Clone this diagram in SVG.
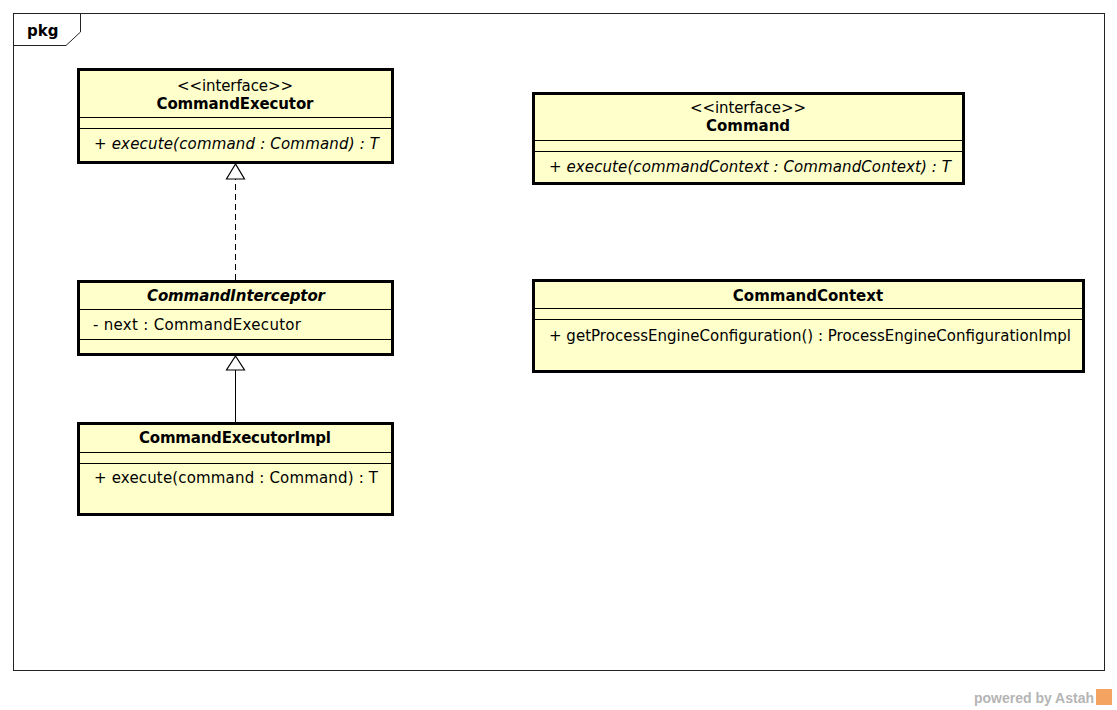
<svg xmlns="http://www.w3.org/2000/svg" width="1117" height="710" viewBox="0 0 1117 710">
<style>
.box{fill:#ffffcc;stroke:#000;stroke-width:3}
.sep{stroke:#000;stroke-width:1;fill:none}
.t{font-family:"DejaVu Sans",Verdana,sans-serif;font-size:15px;fill:#000}
.b{font-weight:bold}
.i{font-style:italic}
.c{text-anchor:middle}
.frame{fill:none;stroke:#222;stroke-width:1}
.conn{stroke:#000;stroke-width:1;fill:none}
.tri{fill:#fff;stroke:#000;stroke-width:1.2}
</style>
<rect width="1117" height="710" fill="#fff"/>
<g id="frame">
<rect class="frame" x="13.5" y="13.5" width="1091" height="657"/>
<path class="frame" d="M13.5,45.5 H66 L80.5,32 V13.5"/>
<text class="t b" x="27" y="36" font-size="15.5">pkg</text>
</g>
<g id="CommandExecutor">
<rect class="box" x="78.5" y="69.5" width="314" height="93"/>
<line class="sep" x1="78" y1="117.5" x2="393" y2="117.5"/>
<line class="sep" x1="78" y1="128.5" x2="393" y2="128.5"/>
<text class="t c" x="235" y="91" textLength="116" lengthAdjust="spacing">&lt;&lt;interface&gt;&gt;</text>
<text class="t b c" x="235" y="109" textLength="157" lengthAdjust="spacing">CommandExecutor</text>
<text class="t i" x="94" y="149" textLength="285" lengthAdjust="spacing">+ execute(command : Command) : T</text>
</g>
<g id="CommandInterceptor">
<rect class="box" x="78.5" y="281.5" width="314" height="73"/>
<line class="sep" x1="78" y1="309.5" x2="393" y2="309.5"/>
<line class="sep" x1="78" y1="339.5" x2="393" y2="339.5"/>
<text class="t b i c" x="236" y="301" textLength="178" lengthAdjust="spacing">CommandInterceptor</text>
<text class="t" x="93" y="330" textLength="208" lengthAdjust="spacing">- next : CommandExecutor</text>
</g>
<g id="CommandExecutorImpl">
<rect class="box" x="78.5" y="423.5" width="314" height="91"/>
<line class="sep" x1="78" y1="452.5" x2="393" y2="452.5"/>
<line class="sep" x1="78" y1="463.5" x2="393" y2="463.5"/>
<text class="t b c" x="235" y="443" textLength="192" lengthAdjust="spacing">CommandExecutorImpl</text>
<text class="t" x="94" y="483" textLength="284" lengthAdjust="spacing">+ execute(command : Command) : T</text>
</g>
<g id="Command">
<rect class="box" x="533.5" y="93.5" width="430" height="90"/>
<line class="sep" x1="533" y1="140.5" x2="964" y2="140.5"/>
<line class="sep" x1="533" y1="151.5" x2="964" y2="151.5"/>
<text class="t c" x="748" y="113" textLength="116" lengthAdjust="spacing">&lt;&lt;interface&gt;&gt;</text>
<text class="t b c" x="748" y="131">Command</text>
<text class="t i" x="549" y="172" textLength="402" lengthAdjust="spacing">+ execute(commandContext : CommandContext) : T</text>
</g>
<g id="CommandContext">
<rect class="box" x="533.5" y="280.5" width="550" height="91"/>
<line class="sep" x1="533" y1="308.5" x2="1084" y2="308.5"/>
<line class="sep" x1="533" y1="319.5" x2="1084" y2="319.5"/>
<text class="t b c" x="808" y="301">CommandContext</text>
<text class="t" x="549" y="341" textLength="522" lengthAdjust="spacing">+ getProcessEngineConfiguration() : ProcessEngineConfigurationImpl</text>
</g>
<g id="connectors">
<line class="conn" x1="235.5" y1="280" x2="235.5" y2="179" stroke-dasharray="6,4"/>
<polygon class="tri" points="235.5,164 226.5,179 244.5,179"/>
<line class="conn" x1="235.5" y1="422" x2="235.5" y2="370"/>
<polygon class="tri" points="235.5,356 226.5,370 244.5,370"/>
</g>
<g id="watermark">
<text x="1094" y="703" text-anchor="end" font-family="'Liberation Sans',Arial,sans-serif" font-weight="bold" font-size="14" fill="#b5b5b5">powered by Astah</text>
<rect x="1096" y="689" width="16" height="16" fill="#f4a460"/>
</g>
</svg>
